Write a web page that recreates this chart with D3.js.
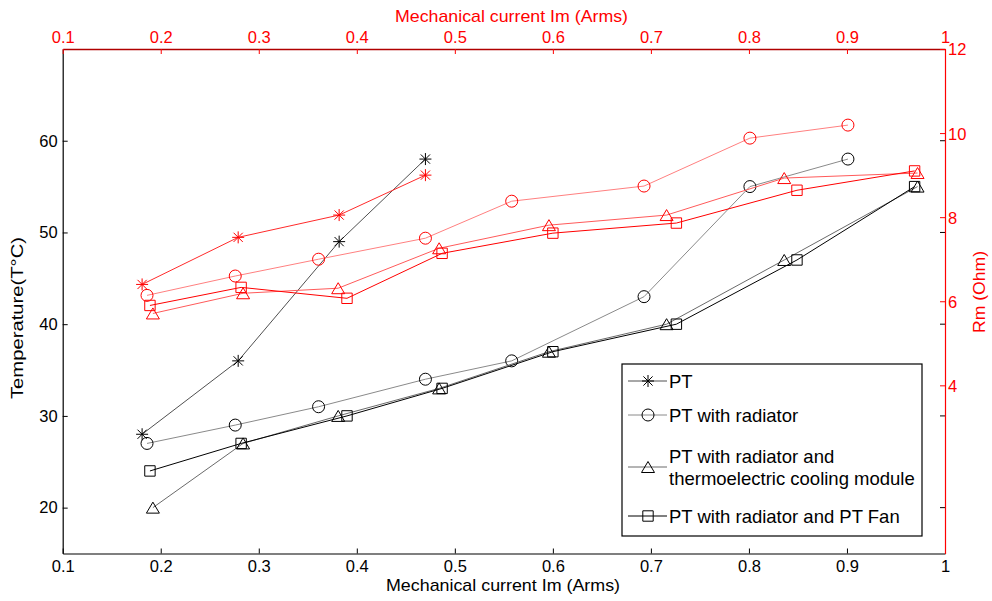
<!DOCTYPE html>
<html>
<head>
<meta charset="utf-8">
<script src="https://cdn.jsdelivr.net/npm/d3@7"></script>
<style>
  html, body { margin: 0; padding: 0; background: #fff; }
  svg { display: block; font-family: "Liberation Sans", Arial, Helvetica, sans-serif; }
</style>
</head>
<body>
<svg id="chart" width="992" height="601"></svg>
<script>
// ---------------- data ----------------
const xTicks = [0.1, 0.2, 0.3, 0.4, 0.5, 0.6, 0.7, 0.8, 0.9, 1];
const tempTicks = [20, 30, 40, 50, 60];
const rmTicks = [4, 6, 8, 10, 12];

const seriesNames = ["PT", "PT with radiator", "PT with radiator and\nthermoelectric cooling module", "PT with radiator and PT Fan"];

const currentPT = [0.181, 0.279, 0.382, 0.470];
const tempPT = [28, 36, 49, 58];
const rmPT = [6.40, 7.52, 8.05, 9.00];

const currentRad = [0.186, 0.276, 0.361, 0.470, 0.558, 0.693, 0.801, 0.901];
const tempRad = [27, 29, 31, 34, 36, 43, 55, 58];
const rmRad = [6.14, 6.60, 7.00, 7.50, 8.38, 8.74, 9.88, 10.19];

const currentTEC = [0.192, 0.284, 0.381, 0.484, 0.596, 0.716, 0.836, 0.972];
const tempTEC = [20, 27, 30, 33, 37, 40, 47, 55];
const rmTEC = [5.71, 6.19, 6.31, 7.26, 7.81, 8.05, 8.93, 9.05];

const currentFan = [0.189, 0.282, 0.390, 0.487, 0.600, 0.726, 0.849, 0.969];
const tempFan = [24, 27, 30, 33, 37, 40, 47, 55];
const rmFan = [5.90, 6.33, 6.07, 7.14, 7.62, 7.86, 8.64, 9.10];

// ---------------- layout ----------------
const L = 62.7, R = 945, T = 49, B = 553.5;
const svg = d3.select("#chart");
const x = d3.scaleLinear().domain([0.1, 1]).range([L, R]);
const yT = d3.scaleLinear().domain([15, 70]).range([B, T]);
const yR = d3.scaleLinear().domain([0, 12]).range([B, T]);

const RED = "#ff0000";
const FS = 16.5;

// marker paths
function markerPath(type) {
  switch (type) {
    case "star": {
      const a = 6, d = 4.6;
      return `M${-a},0L${a},0M0,${-a}L0,${a}M${-d},${-d}L${d},${d}M${-d},${d}L${d},${-d}`;
    }
    case "circle": {
      const r = 6;
      return `M${r},0A${r},${r},0,1,1,${-r},0A${r},${r},0,1,1,${r},0Z`;
    }
    case "triangle": {
      const w = 6.5, h = 5.5;
      return `M0,${-h}L${w},${h}L${-w},${h}Z`;
    }
    case "square": {
      const s = 5.2;
      return `M${-s},${-s}L${s},${-s}L${s},${s}L${-s},${s}Z`;
    }
  }
}

const blackSeries = [
  { xs: currentPT, ys: tempPT, marker: "star", line: "#505050", mk: "#000" },
  { xs: currentRad, ys: tempRad, marker: "circle", line: "#8a8a8a", mk: "#000" },
  { xs: currentTEC, ys: tempTEC, marker: "triangle", line: "#6a6a6a", mk: "#000" },
  { xs: currentFan, ys: tempFan, marker: "square", line: "#000000", mk: "#000" }
];
const redSeries = [
  { xs: currentPT, ys: rmPT, marker: "star", line: "#ff2a2a", mk: RED },
  { xs: currentRad, ys: rmRad, marker: "circle", line: "#ff8080", mk: RED },
  { xs: currentTEC, ys: rmTEC, marker: "triangle", line: "#ff5a5a", mk: RED },
  { xs: currentFan, ys: rmFan, marker: "square", line: "#ff0000", mk: RED }
];

// ---------------- axes ----------------
const axB = svg.append("g").attr("transform", `translate(0,${B})`)
  .call(d3.axisBottom(x).tickValues(xTicks).tickFormat(d3.format("~g")).tickSizeInner(-5).tickSizeOuter(0).tickPadding(7));
const axL = svg.append("g").attr("transform", `translate(${L},0)`)
  .call(d3.axisLeft(yT).tickValues(tempTicks).tickSizeInner(-5).tickSizeOuter(0).tickPadding(5));
svg.append("g").selectAll("line").data(tempTicks).join("line")
  .attr("x1", R).attr("x2", R - 5).attr("y1", d => yT(d)).attr("y2", d => yT(d))
  .attr("stroke", "#000").attr("stroke-width", 1);
const axTop = svg.append("g").attr("transform", `translate(0,${T})`)
  .call(d3.axisTop(x).tickValues(xTicks).tickFormat(d3.format("~g")).tickSizeInner(-5).tickSizeOuter(0).tickPadding(6));
const axR = svg.append("g").attr("transform", `translate(${R},0)`)
  .call(d3.axisRight(yR).tickValues(rmTicks).tickSizeInner(-5).tickSizeOuter(0).tickPadding(3));

[axB, axL].forEach(g => {
  g.selectAll("path.domain").attr("stroke", "#000").attr("stroke-width", 1.2);
  g.selectAll(".tick line").attr("stroke", "#000");
  g.selectAll("text").attr("fill", "#000").style("font-size", FS + "px").attr("font-family", null);
});
[axTop, axR].forEach(g => {
  g.selectAll(".tick line").attr("stroke", RED);
  g.selectAll("text").attr("fill", RED).style("font-size", FS + "px").attr("font-family", null);
});
axTop.selectAll("path.domain").attr("stroke", "#b00000").attr("stroke-width", 1.5);
axR.selectAll("path.domain").attr("stroke", RED).attr("stroke-width", 1.2);
axR.selectAll("text").attr("dy", "0.36em");

// axis titles
svg.append("text").attr("x", 503).attr("y", 591).attr("text-anchor", "middle")
  .attr("textLength", 234).attr("lengthAdjust", "spacingAndGlyphs")
  .style("font-size", "17px").attr("fill", "#000").text("Mechanical current Im (Arms)");
svg.append("text").attr("x", 511.5).attr("y", 22).attr("text-anchor", "middle")
  .attr("textLength", 233).attr("lengthAdjust", "spacingAndGlyphs")
  .style("font-size", "17px").attr("fill", RED).text("Mechanical current Im (Arms)");
svg.append("text").attr("transform", `translate(23,318) rotate(-90)`).attr("text-anchor", "middle")
  .attr("textLength", 162).attr("lengthAdjust", "spacingAndGlyphs")
  .style("font-size", "17px").attr("fill", "#000").text("Temperature(T°C)");
svg.append("text").attr("transform", `translate(985,292) rotate(-90)`).attr("text-anchor", "middle")
  .attr("textLength", 82).attr("lengthAdjust", "spacingAndGlyphs")
  .style("font-size", "17px").attr("fill", RED).text("Rm (Ohm)");

// ---------------- series ----------------
function drawSeries(s, yScale) {
  const pts = s.xs.map((v, i) => [x(v), yScale(s.ys[i])]);
  svg.append("path").datum(pts)
    .attr("d", d3.line())
    .attr("fill", "none").attr("stroke", s.line).attr("stroke-width", 1);
  svg.append("g").selectAll("path").data(pts).join("path")
    .attr("transform", d => `translate(${d[0]},${d[1]})`)
    .attr("d", markerPath(s.marker))
    .attr("fill", "none").attr("stroke", s.mk).attr("stroke-width", 1);
}
blackSeries.forEach(s => drawSeries(s, yT));
redSeries.forEach(s => drawSeries(s, yR));

// ---------------- legend ----------------
const lg = svg.append("g");
lg.append("rect").attr("x", 622).attr("y", 364).attr("width", 300).attr("height", 172)
  .attr("fill", "#fff").attr("stroke", "#000").attr("stroke-width", 1.2);
const legendRows = [
  { y: 381, lines: [381] },
  { y: 415, lines: [415] },
  { y: 467, lines: [456, 478] },
  { y: 516, lines: [516] }
];
legendRows.forEach((row, i) => {
  const s = blackSeries[i];
  lg.append("line").attr("x1", 628).attr("x2", 667).attr("y1", row.y).attr("y2", row.y)
    .attr("stroke", s.line).attr("stroke-width", 1);
  lg.append("path").attr("transform", `translate(648,${row.y})`).attr("d", markerPath(s.marker))
    .attr("fill", "none").attr("stroke", s.mk).attr("stroke-width", 1);
  const parts = seriesNames[i].split("\n");
  parts.forEach((t, j) => {
    lg.append("text").attr("x", 669).attr("y", row.lines[j]).attr("dy", "0.36em")
      .style("font-size", "18.5px").attr("fill", "#000").text(t);
  });
});
</script>
</body>
</html>
